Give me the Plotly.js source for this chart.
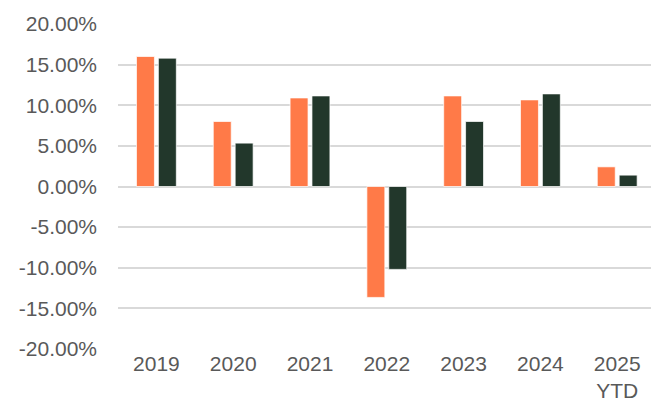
<!DOCTYPE html>
<html><head><meta charset="utf-8">
<script src="https://cdn.plot.ly/plotly-3.0.1.min.js"></script>
<style>html,body{margin:0;padding:0;background:#fff;}#chart{width:651px;height:401px;}</style>
</head><body><div id="chart"></div>
<script>
const categories = ['2019','2020','2021','2022','2023','2024','2025<br>YTD'];
const seriesA = [0.160, 0.080, 0.109, -0.1365, 0.1115, 0.1066, 0.0242];
const seriesB = [0.158, 0.0534, 0.1115, -0.102, 0.080, 0.114, 0.014];
const yTickVals = [0.20, 0.15, 0.10, 0.05, 0, -0.05, -0.10, -0.15, -0.20];
const yTickText = ['20.00%','15.00%','10.00%','5.00%','0.00%','-5.00%','-10.00%','-15.00%','-20.00%'];

const traces = [
  {type:'bar', x:categories, y:seriesA, marker:{color:'#FF7A48', line:{color:'rgba(255,255,255,0.7)', width:1}}, hoverinfo:'none'},
  {type:'bar', x:categories, y:seriesB, marker:{color:'#22372B', line:{color:'rgba(255,255,255,0.7)', width:1}}, hoverinfo:'none'}
];
const layout = {
  width:651, height:401,
  margin:{l:118, r:0, t:24, b:52},
  paper_bgcolor:'#fff', plot_bgcolor:'#fff',
  showlegend:false,
  barmode:'group', bargap:0.43, bargroupgap:0.18,
  font:{family:'Liberation Sans, Arial, sans-serif', color:'#595959', size:21},
  xaxis:{type:'category', range:[-0.5, 6.44], showgrid:false, zeroline:false, showline:false, ticks:'', tickfont:{size:21, color:'#595959'}},
  yaxis:{range:[-0.2, 0.2], tickvals:yTickVals, ticktext:yTickText, showgrid:true, gridcolor:'#d9d9d9', gridwidth:2, zeroline:true, zerolinecolor:'#d9d9d9', zerolinewidth:2, showline:false, ticks:'', ticklabelstandoff:20, tickfont:{size:21, color:'#595959'}}
};
Plotly.newPlot('chart', traces, layout, {staticPlot:true, displayModeBar:false});
</script></body></html>
